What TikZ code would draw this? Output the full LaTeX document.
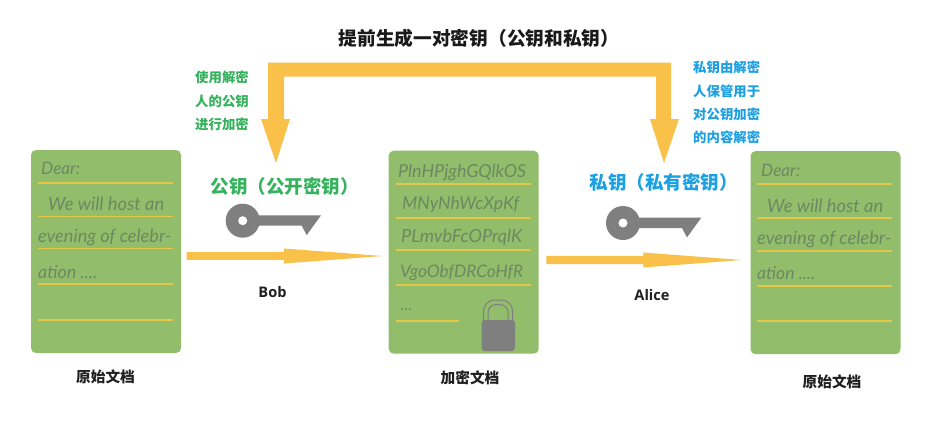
\documentclass[tikz,border=0pt]{standalone}
\usepackage{fontspec}
\usepackage{graphicx}
\setmainfont{Noto Sans CJK SC}
\newfontfamily\latinb{Open Sans}
\newfontfamily\handf{Lato}
\usetikzlibrary{calc}
\definecolor{docgreen}{RGB}{146,190,107}
\definecolor{ruleyel}{RGB}{228,198,72}
\definecolor{arrowyel}{RGB}{249,192,74}
\definecolor{keygray}{RGB}{127,127,127}
\definecolor{pubgreen}{RGB}{52,178,92}
\definecolor{privblue}{RGB}{28,160,226}
\definecolor{handcol}{RGB}{108,136,98}
\newcommand{\hw}[2]{\resizebox{#1pt}{!}{\handf\itshape #2}}
\tikzset{
  docbox/.style={fill=docgreen,draw=none,rounded corners=5pt,minimum width=#1pt,minimum height=203pt,inner sep=0pt},
  docbox/.default=150,
  ruling/.style={draw=ruleyel,line width=1.5pt},
  handtxt/.style={text=handcol,anchor=west,inner sep=0pt},
  title/.style={font=\fontsize{18.7}{21}\selectfont\bfseries,inner sep=0pt},
  keyname/.style={font=\fontsize{18.5}{21}\selectfont\bfseries,inner sep=0pt},
  note/.style={font=\fontsize{13.4}{15}\selectfont\bfseries,inner sep=0pt,anchor=west},
  caption/.style={font=\fontsize{14.7}{17}\selectfont\bfseries,inner sep=0pt,text=black!88},
  person/.style={font=\fontsize{14.6}{17}\selectfont\latinb\bfseries,inner sep=0pt,text=black!88},
  yel/.style={fill=arrowyel,draw=none},
  keyfill/.style={fill=keygray,draw=none},
}
\newcommand{\keyicon}[1]{%
  \fill[keyfill] ($(#1)+(0,-5.4)$) -- ($(#1)+(78.3,-5.4)$) -- ($(#1)+(64,14.4)$) -- ($(#1)+(59,5)$) -- ($(#1)+(0,5)$) -- cycle;
  \fill[keyfill] (#1) circle (17pt);
  \fill[white] (#1) circle (4.5pt);
}
\newcommand{\flatarrow}[5]{% start, end, half shaft, head start distance, half head
  \fill[yel] ($(#1)+(0,-#3)$) -- ($(#1)+(#4,-#3)$) -- ($(#1)+(#4,-#5)$) -- (#2) -- ($(#1)+(#4,#5)$) -- ($(#1)+(#4,#3)$) -- ($(#1)+(0,#3)$) -- cycle;
}
\begin{document}
\begin{tikzpicture}[x=1pt,y=-1pt]
\useasboundingbox (0,0) rectangle (952,439);
\fill[white] (0,0) rectangle (952,439);

% documents
\node[docbox] (doca) at (106,251.5) {};
\node[docbox] (docb) at (463.7,252.2) {};
\node[docbox] (docc) at (825.5,252.7) {};

% rulings
\foreach \y in {183,216.5,248.5,284,320} \draw[ruling] (38,\y) -- (173,\y);
\foreach \y in {184.2,218.2,250,285} \draw[ruling] (396,\y) -- (531,\y);
\draw[ruling] (396,321) -- (459,321);
\foreach \y in {184,218,251,286,320.8} \draw[ruling] (757,\y) -- (892,\y);

% document text
\node[handtxt] (a1) at (41,168) {\hw{39}{Dear:}};
\node[handtxt] (a2) at (48,204) {\hw{116}{We will host an}};
\node[handtxt] (a3) at (38,237) {\hw{133}{evening of celebr-}};
\node[handtxt] (a4) at (38,272) {\hw{59}{ation ....}};

\node[handtxt] (b1) at (398,173) {\hw{128}{PlnHPjghGQlkOS}};
\node[handtxt] (b2) at (402,204) {\hw{117}{MNyNhWcXpKf}};
\node[handtxt] (b3) at (401,237) {\hw{121}{PLmvbFcOPrqlK}};
\node[handtxt] (b4) at (400,273) {\hw{123}{VgoObfDRCoHfR}};
\node[handtxt] (b5) at (401,310) {\hw{11}{...}};

\node[handtxt] (c1) at (761,170) {\hw{39}{Dear:}};
\node[handtxt] (c2) at (767,206) {\hw{116}{We will host an}};
\node[handtxt] (c3) at (757,239) {\hw{134}{evening of celebr-}};
\node[handtxt] (c4) at (757,273) {\hw{58}{ation ....}};

% padlock
\draw[keygray,line width=1pt,rounded corners=11pt] (483.5,321) -- (483.5,300) -- (512.5,300) -- (512.5,321);
\draw[keygray,line width=1pt,rounded corners=8pt] (488,321) -- (488,304.5) -- (508,304.5) -- (508,321);
\fill[keyfill,rounded corners=3pt] (481.7,320) rectangle (515,351);

% top bracket arrow
\coordinate (tipl) at (276,163);
\coordinate (tipr) at (664,163);
\fill[yel] (268,119) -- (268,62.7) -- (671,62.7) -- (671,119) -- (679,119) -- (tipr) -- (650,119) -- (656,119) -- (656,76.7) -- (284,76.7) -- (284,119) -- (290,119) -- (tipl) -- (261,119) -- cycle;

% horizontal arrows
\coordinate (ha1) at (186.7,256);
\coordinate (ha2) at (382,256);
\coordinate (hb1) at (546.3,260);
\coordinate (hb2) at (741.7,260);
\flatarrow{ha1}{ha2}{3.9}{97.3}{7.5}
\flatarrow{hb1}{hb2}{4.1}{97}{7.5}

% keys
\coordinate (keya) at (242.7,220.7);
\coordinate (keyb) at (623,223);
\keyicon{keya}
\keyicon{keyb}

% labels
\node[title,text=black!90] (ttl) at (479,38.5) {提前生成一对密钥（公钥和私钥）};
\node[keyname,text=pubgreen] (pub) at (284.5,186.5) {公钥（公开密钥）};
\node[keyname,text=privblue] (priv) at (663.5,182.5) {私钥（私有密钥）};

\node[note,text=pubgreen] (n1) at (195,77) {使用解密};
\node[note,text=pubgreen] (n2) at (195,101) {人的公钥};
\node[note,text=pubgreen] (n3) at (195,124) {进行加密};

\node[note,text=privblue] (m1) at (693,67) {私钥由解密};
\node[note,text=privblue] (m2) at (693,91) {人保管用于};
\node[note,text=privblue] (m3) at (693,114) {对公钥加密};
\node[note,text=privblue] (m4) at (693,137) {的内容解密};

\node[person] (bob) at (272.5,292.3) {Bob};
\node[person] (alice) at (652,295) {Alice};

\node[caption] (capa) at (105.5,377) {原始文档};
\node[caption] (capb) at (470,378) {加密文档};
\node[caption] (capc) at (832,381.7) {原始文档};
\end{tikzpicture}
\end{document}
